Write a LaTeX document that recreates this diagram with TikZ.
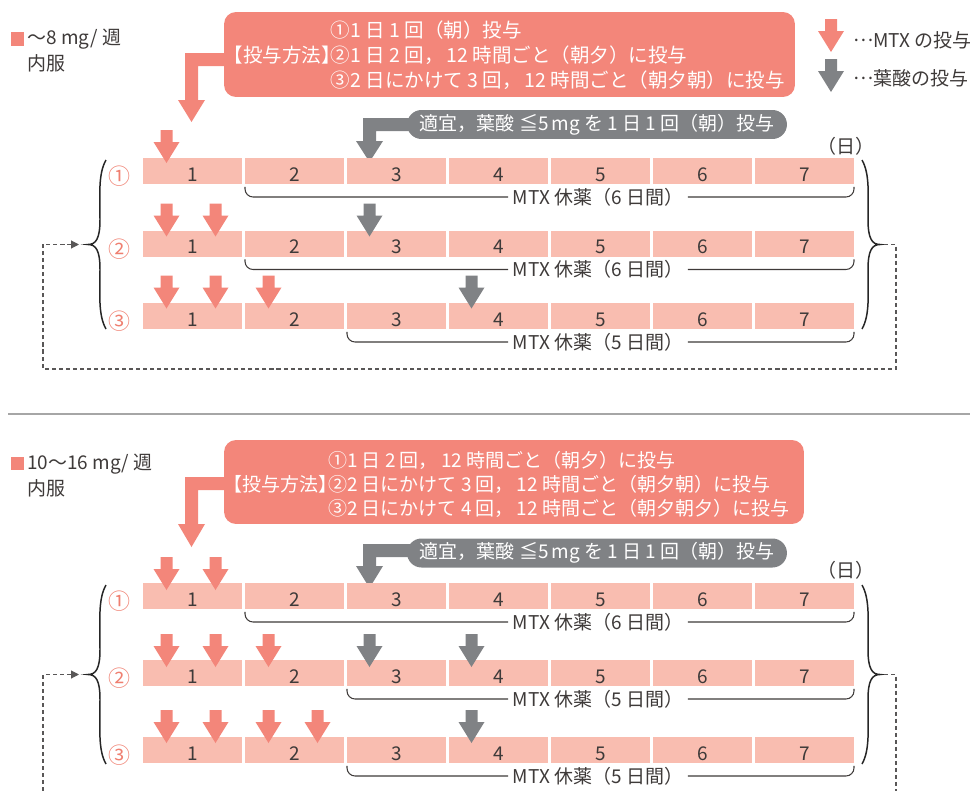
\documentclass[tikz,border=0pt]{standalone}
\usepackage{fontspec}
\setmainfont{Noto Sans CJK JP}
\usetikzlibrary{arrows.meta}

\definecolor{mtxred}{HTML}{F3867A}
\definecolor{daypink}{HTML}{F9BDB0}
\definecolor{folgray}{HTML}{808285}
\definecolor{inkgray}{HTML}{3E3A39}
\definecolor{numred}{HTML}{EF7F70}
\definecolor{loopgray}{HTML}{595757}

\newcommand{\planhead}{{\kern-0.5em【}投与方法{】\kern-0.5em}}
\newcommand{\keydots}{\raisebox{0.3em}{…}}

% seven day boxes, #1 = name prefix, #2 = top edge
\newcommand{\dayrow}[2]{
  \foreach \n in {1,...,7}
    \node [daybox] (#1\n) at ({192.5+102*(\n-1)},#2+13) {\n};
}
% block arrow pointing down, tip at (#2,#3)
\newcommand{\dosearrow}[3]{
  \fill [#1] (#2-6,#3-33) -- (#2+6,#3-33) -- (#2+6,#3-21) -- (#2+13,#3-21)
    -- (#2,#3) -- (#2-13,#3-21) -- (#2-6,#3-21) -- cycle;
}
% MTX pause span under the boxes
\newcommand{\restspan}[5]{
  \node [restlabel] (#3) at (598,#5) {MTX 休薬（#4 日間）};
  \draw [restline] ([yshift=-1.7pt]#1.south west) |- (#3.west);
  \draw [restline] (#3.east) -| ([yshift=-1.7pt]#2.south east);
}
% curly brace, #1 = side (1 left, -1 right), #2 = x of ends, #3 top, #4 bottom
\newcommand{\rowbrace}[4]{
  \pgfmathsetmacro\ymid{(#3+#4)/2}
  \draw [brc] (#2,#3) .. controls ({#2-8*(#1)},#3+14) and ({#2-6*(#1)},#3+35) .. ({#2-6*(#1)},\ymid-25)
    .. controls ({#2-6*(#1)},\ymid-6) and ({#2-10*(#1)},\ymid) .. ({#2-18*(#1)},\ymid)
    .. controls ({#2-10*(#1)},\ymid) and ({#2-6*(#1)},\ymid+6) .. ({#2-6*(#1)},\ymid+25)
    .. controls ({#2-6*(#1)},#4-35) and ({#2-8*(#1)},#4-14) .. (#2,#4);
}

\begin{document}
\begin{tikzpicture}[x=0.02cm, y=-0.02cm, font=\fontsize{10.8}{13}\selectfont, text=inkgray,
  daybox/.style={fill=daypink, inner sep=0pt, outer sep=0pt, minimum width=1.98cm,
    minimum height=0.52cm, text height=11.5pt, text depth=0pt},
  rownum/.style={text=numred, inner sep=0pt, font=\fontsize{12.5}{13}\selectfont},
  restlabel/.style={inner xsep=2.5pt, inner ysep=0pt},
  restline/.style={draw=inkgray, line width=0.6pt, rounded corners=0.16cm},
  plan/.style={fill=mtxred, rounded corners=0.24cm, inner sep=0pt},
  plantext/.style={anchor=west, text=white, inner sep=0pt, align=left,
    font=\fontsize{11.1}{14.2}\selectfont},
  folbanner/.style={fill=folgray, text=white, rounded corners=0.29cm, minimum width=7.6cm,
    minimum height=0.58cm, inner sep=0pt},
  legend/.style={anchor=west, inner sep=0pt},
  brc/.style={draw=black!85, line width=0.85pt},
  loopline/.style={draw=loopgray, line width=0.6pt, dash pattern=on 2.3pt off 1.7pt}]
\useasboundingbox (0,0) rectangle (977,791);

%%% ~8 mg
\fill [mtxred] (11,32) rectangle (24,46);
\node [legend] (doseA) at (27,39.5) {～8 mg/ 週};
\node [legend] (routeA) at (27,63.5) {内服};

\node [legend] (keymtx) at (853,40) {\keydots MTX の投与};
\node [legend] (keyfol) at (853,78) {\keydots 葉酸の投与};
\dosearrow{mtxred}{831}{52}
\dosearrow{folgray}{831}{92}

\fill [mtxred] (230,53) -- (185,53) -- (185,100) -- (178,100) -- (191.5,122)
  -- (205,100) -- (198,100) -- (198,66) -- (230,66) -- cycle;
\node [plan, minimum width=11.42cm, minimum height=1.7cm] (planA) at (509.5,54.5) {};
\node [plantext] (planAtext) at (233,55.5)
  {\hphantom{\planhead}①1 日 1 回（朝）投与\\
   \planhead②1 日 2 回，\,12 時間ごと（朝夕）に投与\\
   \hphantom{\planhead}③2 日にかけて 3 回，\,12 時間ごと（朝夕朝）に投与};

\fill [folgray] (410,118) -- (363,118) -- (363,141) -- (356,141) -- (369.5,162)
  -- (383,141) -- (376,141) -- (376,131) -- (410,131) -- cycle;
\node [folbanner] (folA) at (597,124.5) {適宜，葉酸 ≦5\,mg を 1 日 1 回（朝）投与};
\node (dayA) at (846,146) {（日）};

\dayrow{a1}{158}
\dayrow{a2}{230.5}
\dayrow{a3}{303}
\node [rownum] (na1) at (119,176.5) {①};
\node [rownum] (na2) at (119,249) {②};
\node [rownum] (na3) at (119,321.5) {③};

\dosearrow{mtxred}{166.5}{163}
\foreach \x in {166.5,215.5} {\dosearrow{mtxred}{\x}{236.5}}
\dosearrow{folgray}{369.5}{236.5}
\foreach \x in {166.5,215.5,268.5} {\dosearrow{mtxred}{\x}{308.5}}
\dosearrow{folgray}{471.5}{308.5}

\restspan{a12}{a17}{ra1}{6}{197}
\restspan{a22}{a27}{ra2}{6}{269.5}
\restspan{a33}{a37}{ra3}{5}{342}

\rowbrace{1}{106}{160}{329}
\rowbrace{-1}{862}{160}{329}
\coordinate (brAL) at (79,244.5);
\coordinate (brAR) at (884,244.5);
\draw [loopline, -{Triangle[length=4.5pt,width=4.5pt]}] (brAR) -| (896,369) -| (43,244.5) -- (brAL);

\draw [black!35, line width=0.6pt] (8,414) -- (970,414);

%%% 10~16 mg
\fill [mtxred] (11,457) rectangle (24,470);
\node [legend] (doseB) at (27,464) {10～16 mg/ 週};
\node [legend] (routeB) at (27,488) {内服};

\fill [mtxred] (230,477) -- (185,477) -- (185,524) -- (178,524) -- (191.5,547)
  -- (205,524) -- (198,524) -- (198,490) -- (230,490) -- cycle;
\node [plan, minimum width=11.6cm, minimum height=1.68cm] (planB) at (514,482) {};
\node [plantext, font=\fontsize{10.8}{13.6}\selectfont] (planBtext) at (233,484)
  {\hphantom{\planhead}①1 日 2 回，\,12 時間ごと（朝夕）に投与\\
   \planhead②2 日にかけて 3 回，\,12 時間ごと（朝夕朝）に投与\\
   \hphantom{\planhead}③2 日にかけて 4 回，\,12 時間ごと（朝夕朝夕）に投与};

\fill [folgray] (410,544) -- (363,544) -- (363,566) -- (356,566) -- (369.5,588)
  -- (383,566) -- (376,566) -- (376,557) -- (410,557) -- cycle;
\node [folbanner] (folB) at (597,553) {適宜，葉酸 ≦5\,mg を 1 日 1 回（朝）投与};
\node (dayB) at (846,570) {（日）};

\dayrow{b1}{583}
\dayrow{b2}{660}
\dayrow{b3}{737}
\node [rownum] (nb1) at (119,601.5) {①};
\node [rownum] (nb2) at (119,678.5) {②};
\node [rownum] (nb3) at (119,755.5) {③};

\foreach \x in {166.5,215.5} {\dosearrow{mtxred}{\x}{590}}
\foreach \x in {166.5,215.5,268.5} {\dosearrow{mtxred}{\x}{667}}
\foreach \x in {369.5,471.5} {\dosearrow{folgray}{\x}{667}}
\foreach \x in {166.5,215.5,268.5,317.5} {\dosearrow{mtxred}{\x}{743}}
\dosearrow{folgray}{471.5}{743}

\restspan{b12}{b17}{rb1}{6}{622}
\restspan{b23}{b27}{rb2}{5}{699}
\restspan{b33}{b37}{rb3}{5}{776}

\rowbrace{1}{106}{585}{764}
\rowbrace{-1}{862}{585}{764}
\coordinate (brBL) at (79,674.5);
\coordinate (brBR) at (884,674.5);
\draw [loopline] (brBR) -| (896,791);
\draw [loopline, -{Triangle[length=4.5pt,width=4.5pt]}] (43,791) |- (brBL);
\end{tikzpicture}
\end{document}
